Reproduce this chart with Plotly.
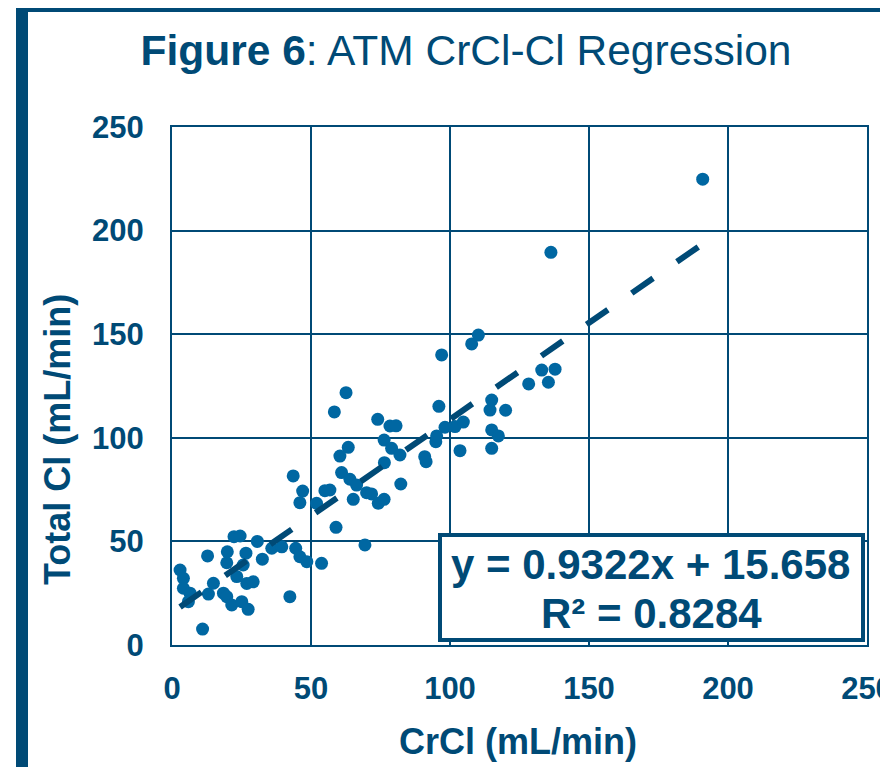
import plotly.graph_objects as go

# ---- data ----
crcl = [2.9, 4.1, 4.1, 6.5, 5.9, 11.0, 12.8, 13.1, 14.9, 18.5, 19.7, 19.7, 19.9, 21.5,
        22.3, 23.3, 24.5, 25.1, 25.6, 26.6, 26.9, 27.4, 29.2, 30.7, 32.5, 35.9, 39.5,
        42.4, 43.6, 44.5, 46.0, 46.0, 47.0, 48.5, 52.0, 53.8, 55.0, 56.8, 58.4, 59.0,
        60.4, 61.0, 62.6, 63.4, 64.0, 65.2, 66.4, 69.4, 70.0, 71.8, 74.0, 74.2, 76.3,
        76.3, 76.4, 78.4, 79.0, 80.6, 82.0, 82.3, 90.9, 91.4, 94.9, 95.2, 96.0, 97.0,
        98.2, 101.8, 103.6, 104.8, 107.8, 110.2, 114.4, 115.0, 115.0, 115.0, 117.4,
        120.0, 128.3, 133.0, 135.4, 136.3, 137.8, 190.9]
total_cl = [36.2, 32.2, 27.4, 25.0, 20.9, 7.7, 43.0, 24.6, 29.8, 25.0, 23.3, 39.7, 45.0,
            19.3, 52.3, 33.0, 52.6, 20.9, 38.6, 44.3, 29.7, 17.2, 30.5, 50.0, 41.4, 46.7,
            47.4, 23.3, 81.6, 46.7, 42.6, 68.7, 74.3, 40.2, 68.4, 39.4, 74.5, 74.8, 112.5,
            56.8, 91.2, 83.2, 121.8, 95.4, 80.0, 70.3, 77.2, 48.3, 73.5, 72.9, 108.9, 68.4,
            70.3, 98.9, 88.0, 105.7, 94.9, 105.8, 91.7, 77.7, 90.9, 88.5, 98.1, 100.9,
            115.2, 140.0, 105.1, 105.4, 93.8, 107.6, 145.3, 149.6, 113.4, 118.2, 103.8,
            94.9, 100.9, 113.3, 126.0, 132.7, 126.8, 189.5, 133.1, 224.8]
slope = 0.9322
intercept = 15.658
r_squared = 0.8284
tick_vals = [0, 50, 100, 150, 200, 250]

NAVY = "#004a76"
POINT = "#0067a2"
FONT = "Liberation Sans, Arial, sans-serif"

x_fit = [min(crcl), max(crcl)]
y_fit = [slope * v + intercept for v in x_fit]

fig = go.Figure()
fig.add_trace(go.Scatter(x=crcl, y=total_cl, mode="markers",
                         marker=dict(size=13, color=POINT, line=dict(width=0)),
                         showlegend=False, cliponaxis=False))
fig.add_trace(go.Scatter(x=x_fit, y=y_fit, mode="lines",
                         line=dict(color=NAVY, width=6, dash="26px,29px"),
                         showlegend=False))

# page-pixel layout (the page body adds an 8px offset)
OFF = 8
W, H = 888, 767
plot_left, plot_right, plot_top, plot_bottom = 172, 867, 127, 645
L = plot_left - OFF
T = plot_top - OFF
R = W - (plot_right - OFF)
B = H - (plot_bottom - OFF)
pw, ph = plot_right - plot_left, plot_bottom - plot_top


def px(xp):
    return (xp - plot_left) / pw


def py(yp):
    return (plot_bottom - yp) / ph


axis_common = dict(range=[0, 250], tickvals=tick_vals, showgrid=True, gridcolor=NAVY,
                   gridwidth=2, showline=True, linecolor=NAVY, linewidth=2, mirror=True,
                   zeroline=False, ticks="", automargin=False,
                   tickfont=dict(family=FONT, size=31, color=NAVY, weight="bold"))

fig.update_layout(
    width=W, height=H,
    margin=dict(l=L, r=R, t=T, b=B, autoexpand=False),
    paper_bgcolor="white", plot_bgcolor="white",
    title=dict(text="<b>Figure 6</b>: ATM CrCl-Cl Regression",
               font=dict(family=FONT, size=42.5, color=NAVY),
               x=(466 - OFF) / W, xanchor="center", y=1 - (50 - OFF) / H, yanchor="middle"),
    xaxis=dict(**axis_common, ticklabelstandoff=15),
    yaxis=dict(**axis_common, ticklabelstandoff=20),
)

shapes = [
    # frame bands
    dict(type="rect", xref="paper", yref="paper", x0=px(16), x1=px(900), y0=py(12), y1=py(-20),
         fillcolor=NAVY, line=dict(width=0), layer="above"),
    dict(type="rect", xref="paper", yref="paper", x0=px(16), x1=px(28), y0=py(800), y1=py(-20),
         fillcolor=NAVY, line=dict(width=0), layer="above"),
    # equation box
    dict(type="rect", xref="paper", yref="paper", x0=px(440), x1=px(863), y0=py(640), y1=py(535),
         fillcolor="white", line=dict(color=NAVY, width=4), layer="above"),
]
fig.update_layout(shapes=shapes)

annotations = [
    dict(text=f"<b>y = {slope}x + {intercept}</b>", x=px(650), y=py(564), xref="paper", yref="paper",
         showarrow=False, xanchor="center", yanchor="middle",
         font=dict(family=FONT, size=42, color=NAVY)),
    dict(text=f"<b>R² = {r_squared}</b>", x=px(651), y=py(613), xref="paper", yref="paper",
         showarrow=False, xanchor="center", yanchor="middle",
         font=dict(family=FONT, size=42, color=NAVY)),
    dict(text="<b>CrCl (mL/min)</b>", x=px(518), y=py(741), xref="paper", yref="paper",
         showarrow=False, xanchor="center", yanchor="middle",
         font=dict(family=FONT, size=36, color=NAVY)),
    dict(text="<b>Total Cl (mL/min)</b>", x=px(57), y=py(440), xref="paper", yref="paper",
         showarrow=False, xanchor="center", yanchor="middle", textangle=-90,
         font=dict(family=FONT, size=36, color=NAVY)),
]
fig.update_layout(annotations=annotations)

fig.write_html("out.html")
